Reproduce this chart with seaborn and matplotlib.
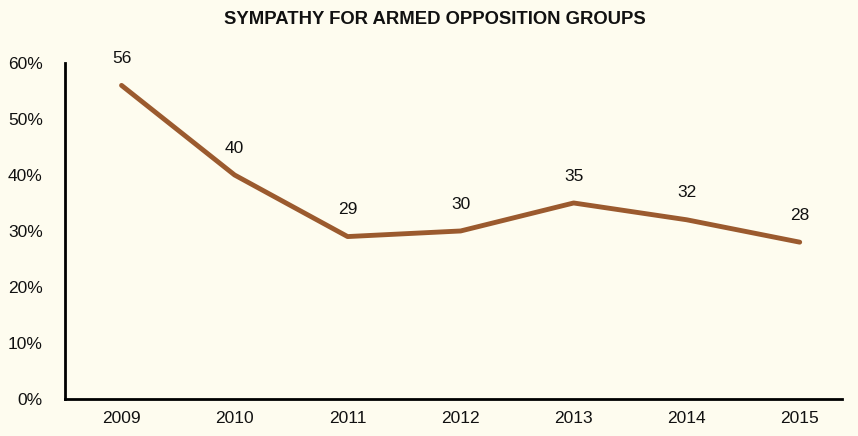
import pandas as pd
import matplotlib.pyplot as plt
import seaborn as sns

# Data
years = ['2009', '2010', '2011', '2012', '2013', '2014', '2015']
sympathy = [56, 40, 29, 30, 35, 32, 28]

df = pd.DataFrame({'year': years, 'value': sympathy})
df['x'] = range(len(df))

bg = '#FEFCEF'
line_color = '#9B5A2E'

sns.set_style('white')
plt.rcParams['font.family'] = ['Liberation Sans', 'DejaVu Sans']

fig = plt.figure(figsize=(8.58, 4.36), dpi=100, facecolor=bg)
ax = fig.add_axes([0.0758, 0.085, 0.905, 0.7705])
ax.set_facecolor(bg)

sns.lineplot(data=df, x='x', y='value', color=line_color, linewidth=3.5, ax=ax)

for xi, v in zip(df['x'], df['value']):
    ax.annotate(str(v), (xi, v), xytext=(0, 14), textcoords='offset points',
                ha='center', va='bottom', fontsize=12.5, color='#111111')

ax.set_xlim(-0.5, 6.37)
ax.set_ylim(0, 60)
ax.set_xticks(df['x'])
ax.set_xticklabels(years)
ax.set_yticks(range(0, 61, 10))
ax.set_yticklabels([f'{t}%' for t in range(0, 61, 10)])
ax.tick_params(axis='both', length=0, labelsize=12.5, colors='#111111')
ax.tick_params(axis='x', pad=9)
ax.tick_params(axis='y', pad=16)
ax.set_xlabel('')
ax.set_ylabel('')

for s in ['top', 'right']:
    ax.spines[s].set_visible(False)
for s in ['left', 'bottom']:
    ax.spines[s].set_color('black')
    ax.spines[s].set_linewidth(2)

fig.suptitle('SYMPATHY FOR ARMED OPPOSITION GROUPS', fontsize=13.3,
             fontweight='bold', y=0.975, x=0.507, color='#111111')

plt.savefig('out.png', dpi=100, facecolor=bg)
plt.close()
